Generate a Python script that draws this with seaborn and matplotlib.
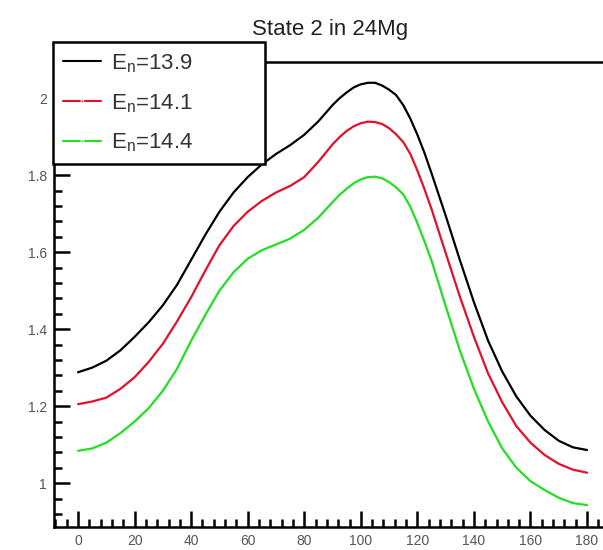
import numpy as np
import pandas as pd
import matplotlib
matplotlib.use("Agg")
import matplotlib.pyplot as plt
import seaborn as sns
from matplotlib.ticker import MultipleLocator

angles = [0, 5, 10, 15, 20, 25, 30, 35, 40, 45, 50, 55, 60, 65, 70, 75, 80, 85,
          90, 92.5, 95, 97.5, 100, 102.5, 105, 107.5, 110, 112.5, 115, 117.5, 120,
          122.5, 125, 130, 135, 140, 145, 150, 155, 160, 165, 170, 175, 180]
e139 = [1.288, 1.300, 1.318, 1.345, 1.380, 1.418, 1.462, 1.515, 1.580, 1.645, 1.705,
        1.755, 1.795, 1.828, 1.855, 1.878, 1.905, 1.940,
        1.982, 2.000, 2.015, 2.028, 2.036, 2.040, 2.040, 2.033, 2.022, 2.008, 1.982,
        1.947, 1.905, 1.858, 1.805,
        1.695, 1.580, 1.470, 1.370, 1.290, 1.225, 1.175, 1.138, 1.110, 1.093, 1.086]
e141 = [1.205, 1.212, 1.222, 1.245, 1.275, 1.315, 1.362, 1.420, 1.483, 1.552, 1.618,
        1.668, 1.705, 1.733, 1.755, 1.772, 1.795, 1.835,
        1.880, 1.899, 1.915, 1.927, 1.935, 1.939, 1.938, 1.933, 1.922, 1.906, 1.886,
        1.855, 1.812, 1.764, 1.712,
        1.598, 1.485, 1.380, 1.285, 1.210, 1.148, 1.105, 1.073, 1.050, 1.035, 1.027]
e144 = [1.084, 1.090, 1.105, 1.130, 1.160, 1.195, 1.240, 1.297, 1.370, 1.437, 1.500,
        1.548, 1.583, 1.605, 1.620, 1.635, 1.658, 1.690,
        1.730, 1.749, 1.765, 1.779, 1.789, 1.795, 1.796, 1.792, 1.782, 1.768, 1.750,
        1.718, 1.675, 1.628, 1.578,
        1.460, 1.345, 1.245, 1.160, 1.090, 1.040, 1.005, 0.982, 0.962, 0.948, 0.943]
series_labels = [r"E$_\mathregular{n}$=13.9", r"E$_\mathregular{n}$=14.1", r"E$_\mathregular{n}$=14.4"]
colors = ["#000000", "#e3102c", "#22df22"]
title = "State 2 in 24Mg"
xticks = [0, 20, 40, 60, 80, 100, 120, 140, 160, 180]
yticks = [1, 1.2, 1.4, 1.6, 1.8, 2]
ytick_labels = ["1", "1.2", "1.4", "1.6", "1.8", "2"]

sns.set_style("white")
plt.rcParams["font.family"] = ["Liberation Sans", "DejaVu Sans"]
plt.rcParams["mathtext.fontset"] = "custom"
plt.rcParams["mathtext.rm"] = "Liberation Sans"

df = pd.DataFrame({
    "angle": angles * 3,
    "value": e139 + e141 + e144,
    "series": [series_labels[0]] * len(angles) + [series_labels[1]] * len(angles)
              + [series_labels[2]] * len(angles),
})

fig = plt.figure(figsize=(6.03, 5.5), dpi=100)
ax = fig.add_axes([54 / 603, 1 - 527 / 550, (606 - 54) / 603, (527 - 62) / 550])
sns.lineplot(data=df, x="angle", y="value", hue="series", hue_order=series_labels,
             palette=colors, linewidth=1.6, ax=ax, legend=True)
for ln in ax.get_lines():
    ln.set_solid_joinstyle("round")

ax.set_xlim(-8.5, 186.7)
ax.set_ylim(0.886, 2.094)
ax.set_xlabel("")
ax.set_ylabel("")
ax.set_xticks(xticks)
ax.set_xticklabels([str(t) for t in xticks])
ax.set_yticks(yticks)
ax.set_yticklabels(ytick_labels)
ax.xaxis.set_minor_locator(MultipleLocator(4))
ax.yaxis.set_minor_locator(MultipleLocator(0.04))
ax.tick_params(which="both", direction="in", color="black", width=1.8,
               bottom=True, left=True, top=False, right=False)
ax.tick_params(which="major", length=11.5, labelsize=10, labelcolor="#555555")
ax.tick_params(which="minor", length=5.5)
ax.tick_params(axis="y", which="major", pad=5)
ax.tick_params(axis="x", which="major", pad=5)
for s in ax.spines.values():
    s.set_color("black")
    s.set_linewidth(1.8)

fig.text(330 / 603, 1 - 29 / 550, title, ha="center", va="center",
         fontsize=16, color="#222222")

leg = ax.legend(loc="upper left",
                bbox_to_anchor=(53 / 603, 1 - 163 / 550, (265 - 53) / 603, (163 - 42) / 550),
                bbox_transform=fig.transFigure, mode="expand", borderaxespad=0,
                frameon=True, fancybox=False, framealpha=1, edgecolor="black",
                fontsize=16, handlelength=1.7, handletextpad=0.45, labelspacing=0.78,
                borderpad=0.45)
leg.get_frame().set_linewidth(1.8)
for t in leg.get_texts():
    t.set_color("#333333")
for i, h in enumerate(leg.get_lines()):
    h.set_linewidth(1.5)
    if i > 0:
        h.set_marker("o")
        h.set_markersize(2)
        h.set_markevery([1])

fig.savefig("out.png", dpi=100)
